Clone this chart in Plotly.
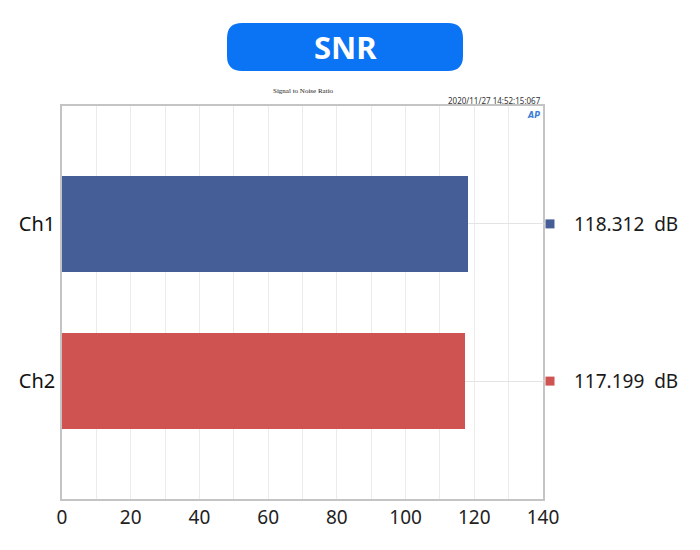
import plotly.graph_objects as go

channels = ["Ch1", "Ch2"]
snr_db = [118.312, 117.199]
bar_colors = ["#465e98", "#cf5351"]
x_ticks = [0, 20, 40, 60, 80, 100, 120, 140]

# target plot area in the screenshot (page has ~7px body offset)
OFF = 7
PL, PR, PT, PB = 61, 542, 105, 498
PW, PH = PR - PL, PB - PT
L, T = PL - OFF, PT - OFF
R, B = 700 - L - PW, 550 - T - PH

def px_x(px):
    return (px - PL) / PW

def px_y(py):
    return (PB - py) / PH

fig = go.Figure()
fig.add_trace(go.Bar(
    x=snr_db, y=channels, orientation="h",
    marker=dict(color=bar_colors, line=dict(width=0)),
    width=0.61, hoverinfo="skip",
))

shapes = []
annotations = []

# right-side legend entries
for i, (ch, v, c) in enumerate(zip(channels, snr_db, bar_colors)):
    shapes.append(dict(type="line", xref="paper", yref="y",
                       x0=1, x1=px_x(546), y0=i, y1=i,
                       line=dict(color="#e4e4e4", width=1)))
    shapes.append(dict(type="rect", xref="paper", yref="y",
                       xsizemode="pixel", ysizemode="pixel",
                       xanchor=px_x(549), yanchor=i,
                       x0=-4.5, x1=4.5, y0=-4.5, y1=4.5,
                       fillcolor=c, line=dict(width=0)))
    annotations.append(dict(xref="paper", yref="y", x=px_x(571), y=i,
                            text=f"{v:.3f}  dB", showarrow=False,
                            xanchor="left", yanchor="middle",
                            font=dict(family="Noto Sans", size=19, color="#1a1a1a")))

# title banner (rounded rectangle)
w, h, r = 236, 48, 15
hw, hh = w / 2, h / 2
path = (f"M {-hw + r},{-hh} L {hw - r},{-hh} Q {hw},{-hh} {hw},{-hh + r} "
        f"L {hw},{hh - r} Q {hw},{hh} {hw - r},{hh} L {-hw + r},{hh} "
        f"Q {-hw},{hh} {-hw},{hh - r} L {-hw},{-hh + r} Q {-hw},{-hh} {-hw + r},{-hh} Z")
shapes.append(dict(type="path", xref="paper", yref="paper",
                   xsizemode="pixel", ysizemode="pixel",
                   xanchor=px_x(344), yanchor=px_y(46),
                   path=path, fillcolor="#0b74f4", line=dict(width=0), layer="above"))
annotations.append(dict(xref="paper", yref="paper", x=px_x(344), y=px_y(46),
                        text="<b>SNR</b>", showarrow=False,
                        xanchor="center", yanchor="middle",
                        font=dict(family="Noto Sans", size=31, color="white")))
annotations.append(dict(xref="paper", yref="paper", x=px_x(302), y=px_y(90),
                        text="Signal to Noise Ratio", showarrow=False,
                        xanchor="center", yanchor="middle",
                        font=dict(family="Liberation Serif", size=7, color="#222")))
annotations.append(dict(xref="paper", yref="paper", x=1.0, y=px_y(99.5),
                        text="2020/11/27 14:52:15:067", showarrow=False,
                        xanchor="right", yanchor="middle",
                        font=dict(family="Noto Sans", size=8, color="#333")))
annotations.append(dict(xref="paper", yref="paper", x=px_x(532), y=px_y(114),
                        text="<b><i>AP</i></b>", showarrow=False,
                        xanchor="center", yanchor="middle",
                        font=dict(family="DejaVu Sans", size=8, color="#3d7fd8")))

fig.update_layout(
    width=700, height=550,
    margin=dict(l=L, r=R, t=T, b=B, autoexpand=False),
    paper_bgcolor="white", plot_bgcolor="white",
    showlegend=False,
    bargap=0,
    shapes=shapes, annotations=annotations,
    xaxis=dict(range=[0, 140], tickvals=x_ticks, showgrid=True,
               gridcolor="#ebebeb", gridwidth=1,
               minor=dict(dtick=10, tick0=0, showgrid=True, gridcolor="#ebebeb"),
               showline=True, linecolor="#c4c4c4", linewidth=1.5, mirror=True,
               ticks="", zeroline=False,
               tickfont=dict(family="Noto Sans", size=19, color="#222")),
    yaxis=dict(range=[1.75, -0.75], showgrid=True, gridcolor="#e4e4e4",
               showline=True, linecolor="#c4c4c4", linewidth=1.5, mirror=True,
               ticks="", ticklabelstandoff=1,
               tickfont=dict(family="Noto Sans", size=20, color="#111")),
)

fig.write_html("out.html")
